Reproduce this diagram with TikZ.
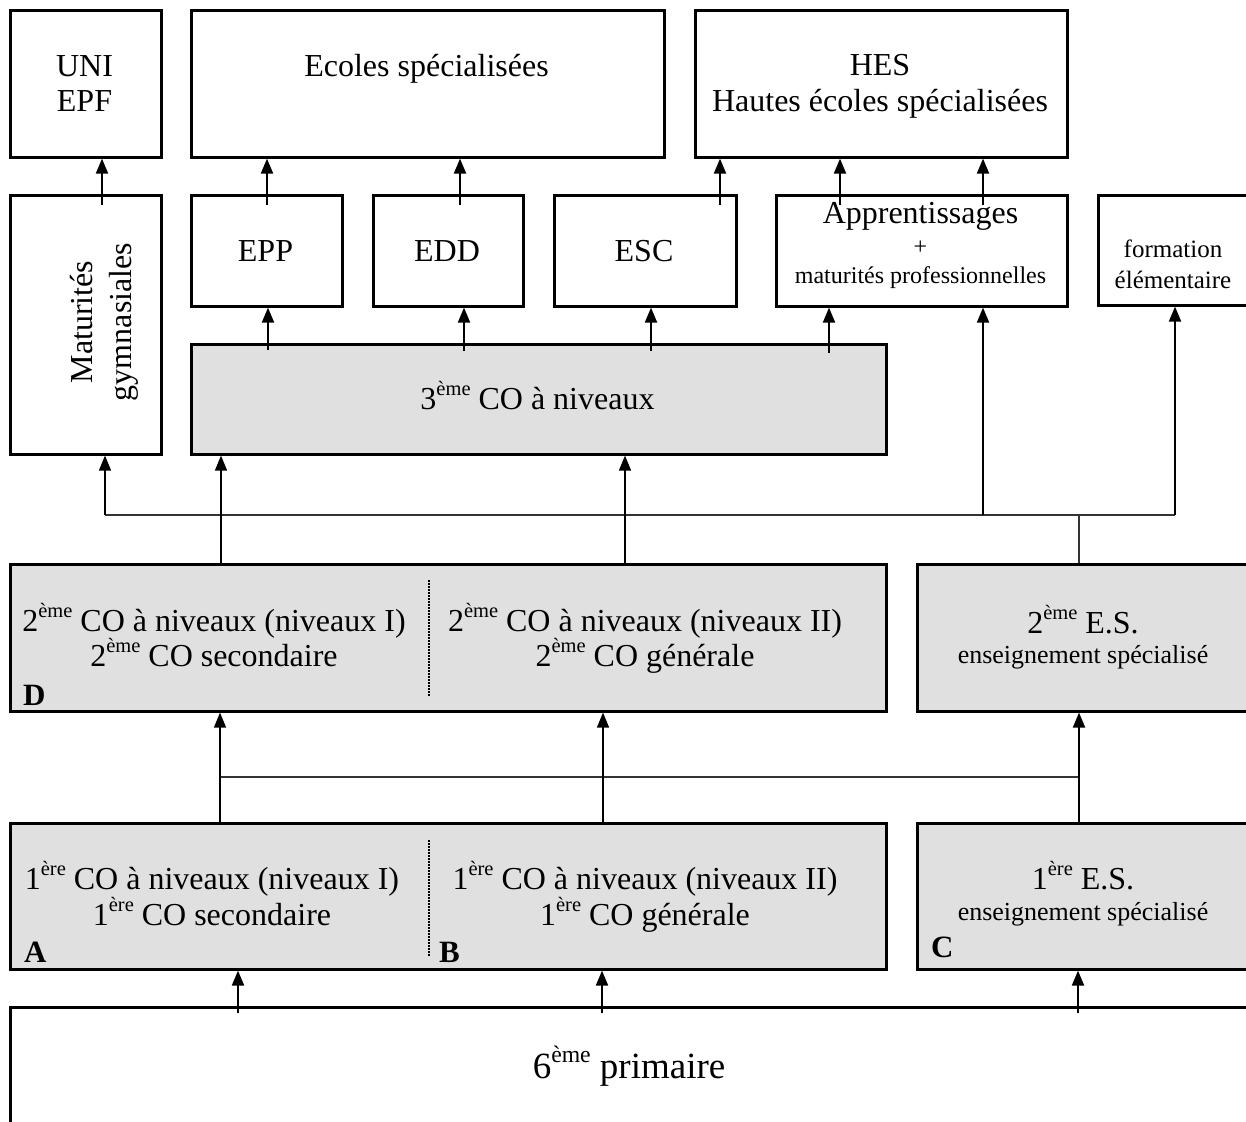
\documentclass[tikz,border=0pt]{standalone}
\usepackage{fontspec}
\setmainfont{Liberation Serif}
\usetikzlibrary{arrows.meta,calc}
\definecolor{boxgray}{RGB}{224,224,224}
\newcommand\sups[1]{\raisebox{0.42em}{\scalebox{0.64}{#1}}}
\newcommand\fsz[1]{\fontsize{#1}{#1}\selectfont}
\begin{document}
\begin{tikzpicture}[x=1pt,y=-1pt,
  box/.style={draw,line width=2.6pt,inner sep=0pt,anchor=north west},
  gbox/.style={box,fill=boxgray},
  txt/.style={inner sep=0pt,anchor=base},
  lab/.style={inner sep=0pt,anchor=base west,font=\fsz{31}\bfseries},
  arr/.style={line width=2pt,-{Triangle[width=12pt,length=15pt]}},
  tarr/.style={line width=1.5pt,-{Triangle[width=12pt,length=15pt]}},
  thinl/.style={line width=1.3pt,draw=black!80},
  divider/.style={line width=1.3pt,dash pattern=on 1.5pt off 1.5pt},
]
\useasboundingbox (0,0) rectangle (1246,1121);
\clip (0,0) rectangle (1246,1121);
\fill[white] (0,0) rectangle (1246,1121);

% ---- boxes ----
\node[box,minimum width=151pt,minimum height=147pt] (uni) at (9,9) {};
\node[box,minimum width=473pt,minimum height=147pt] (ecoles) at (190,9) {};
\node[box,minimum width=372pt,minimum height=147pt] (hes) at (694,9) {};
\node[box,minimum width=151pt,minimum height=259pt] (mat) at (9,194) {};
\node[box,minimum width=151pt,minimum height=111pt] (epp) at (190,194) {};
\node[box,minimum width=150pt,minimum height=111pt] (edd) at (372,194) {};
\node[box,minimum width=182pt,minimum height=111pt] (esc) at (553,194) {};
\node[box,minimum width=291pt,minimum height=111pt] (app) at (775,194) {};
\node[box,minimum width=153pt,minimum height=110pt] (form) at (1097,194) {};
\node[gbox,minimum width=695pt,minimum height=110pt] (co3) at (190,343) {};
\node[gbox,minimum width=876pt,minimum height=147pt] (d) at (9,563) {};
\node[gbox,minimum width=344pt,minimum height=147pt] (es2) at (916,563) {};
\node[gbox,minimum width=876pt,minimum height=146pt] (ab) at (9,822) {};
\node[gbox,minimum width=344pt,minimum height=146pt] (c) at (916,822) {};
\node[box,minimum width=1260pt,minimum height=140pt] (prim) at (9,1006) {};

% ---- texts ----
\node[txt,font=\fsz{32}] (tuni1) at (84.5,77) {UNI};
\node[txt,font=\fsz{32}] (tuni2) at (84.5,112) {EPF};
\node[txt,font=\fsz{32}] (tec) at (426.5,77) {Ecoles spécialisées};
\node[txt,font=\fsz{32}] (thes1) at (880,76) {HES};
\node[txt,font=\fsz{32}] (thes2) at (880,112) {Hautes écoles spécialisées};
\node[txt,font=\fsz{32},rotate=90] (tmat1) at (92,322) {Maturités};
\node[txt,font=\fsz{32},rotate=90] (tmat2) at (131,322) {gymnasiales};
\node[txt,font=\fsz{32}] (tepp) at (265.5,261) {EPP};
\node[txt,font=\fsz{32}] (tedd) at (447,261) {EDD};
\node[txt,font=\fsz{32}] (tesc) at (644,261) {ESC};
\node[txt,font=\fsz{32}] (tapp1) at (920.5,223) {Apprentissages};
\node[txt,font=\fsz{24}] (tapp2) at (920.5,254) {+};
\node[txt,font=\fsz{24}] (tapp3) at (920.5,283) {maturités professionnelles};
\node[txt,font=\fsz{25}] (tform1) at (1173,257) {formation};
\node[txt,font=\fsz{25}] (tform2) at (1173,288) {élémentaire};
\node[txt,font=\fsz{32}] (tco3) at (537.5,409) {3\sups{ème} CO à niveaux};
\node[txt,font=\fsz{32}] (td1) at (214,631) {2\sups{ème} CO à niveaux (niveaux I)};
\node[txt,font=\fsz{32}] (td2) at (214,666) {2\sups{ème} CO secondaire};
\node[txt,font=\fsz{32}] (td3) at (645,631) {2\sups{ème} CO à niveaux (niveaux II)};
\node[txt,font=\fsz{32}] (td4) at (645,666) {2\sups{ème} CO générale};
\node[txt,font=\fsz{32}] (ta1) at (212,889) {1\sups{ère} CO à niveaux (niveaux I)};
\node[txt,font=\fsz{32}] (ta2) at (212,925) {1\sups{ère} CO secondaire};
\node[txt,font=\fsz{32}] (tb1) at (645,889) {1\sups{ère} CO à niveaux (niveaux II)};
\node[txt,font=\fsz{32}] (tb2) at (645,925) {1\sups{ère} CO générale};
\node[txt,font=\fsz{32}] (tes2a) at (1083,633) {2\sups{ème} E.S.};
\node[txt,font=\fsz{26}] (tes2b) at (1083,663) {enseignement spécialisé};
\node[txt,font=\fsz{32}] (tes1a) at (1083,889) {1\sups{ère} E.S.};
\node[txt,font=\fsz{26}] (tes1b) at (1083,920) {enseignement spécialisé};
\node[txt,font=\fsz{37}] (tprim) at (629,1078) {6\sups{ème} primaire};
\node[lab] (labD) at (23,705) {D};
\node[lab] (labA) at (24,962) {A};
\node[lab] (labB) at (439,962) {B};
\node[lab] (labC) at (931,957) {C};

% ---- dividers ----
\coordinate (dv1) at (429,580); \coordinate (dv2) at (429,697);
\coordinate (dv3) at (429,840); \coordinate (dv4) at (429,957);
\draw[divider] (dv1) -- (dv2);
\draw[divider] (dv3) -- (dv4);

% ---- top arrows ----
\coordinate (s1) at (102,205);
\coordinate (s2) at (267,205);
\coordinate (s3) at (460,205);
\coordinate (s4) at (720,205);
\coordinate (s5) at (840,205);
\coordinate (s6) at (983,205);
\draw[arr] (s1) -- (s1 |- uni.south);
\draw[arr] (s2) -- (s2 |- ecoles.south);
\draw[arr] (s3) -- (s3 |- ecoles.south);
\draw[arr] (s4) -- (s4 |- hes.south);
\draw[arr] (s5) -- (s5 |- hes.south);
\draw[arr] (s6) -- (s6 |- hes.south);

% ---- from 3eme ----
\coordinate (u1) at (268,350);
\coordinate (u2) at (464,351);
\coordinate (u3) at (651,351);
\coordinate (u4) at (829,353);
\draw[arr] (u1) -- (u1 |- epp.south);
\draw[arr] (u2) -- (u2 |- edd.south);
\draw[arr] (u3) -- (u3 |- esc.south);
\draw[arr] (u4) -- (u4 |- app.south);

% ---- junction line ----
\coordinate (j1) at (105,515);
\coordinate (j2) at (983,515);
\coordinate (j3) at (1079,515);
\coordinate (j4) at (1175,515);
\draw[thinl] (j1) -- (j4);
\draw[tarr] (j1) -- (j1 |- mat.south);
\draw[arr] (j2) -- (j2 |- app.south);
\draw[arr] (j4) -- (j4 |- form.south);
\draw[thinl] (j3) -- (j3 |- es2.north);

% ---- D to 3eme ----
\coordinate (r1) at (221,540);
\coordinate (r2) at (625,540);
\draw[tarr] (r1 |- d.north) -- (r1 |- co3.south);
\draw[tarr] (r2 |- d.north) -- (r2 |- co3.south);

% ---- AB/C to D/ES2 ----
\coordinate (q1) at (220,777);
\coordinate (q2) at (603,777);
\coordinate (q3) at (1079,777);
\draw[thinl] (q1) -- (q3);
\draw[tarr] (q1 |- ab.north) -- (q1 |- d.south);
\draw[tarr] (q2 |- ab.north) -- (q2 |- d.south);
\draw[arr] (q3 |- c.north) -- (q3 |- es2.south);

% ---- primaire arrows ----
\coordinate (p1) at (238,1013);
\coordinate (p2) at (602,1013);
\coordinate (p3) at (1078,1013);
\draw[arr] (p1) -- (p1 |- ab.south);
\draw[arr] (p2) -- (p2 |- ab.south);
\draw[arr] (p3) -- (p3 |- c.south);
\end{tikzpicture}
\end{document}
